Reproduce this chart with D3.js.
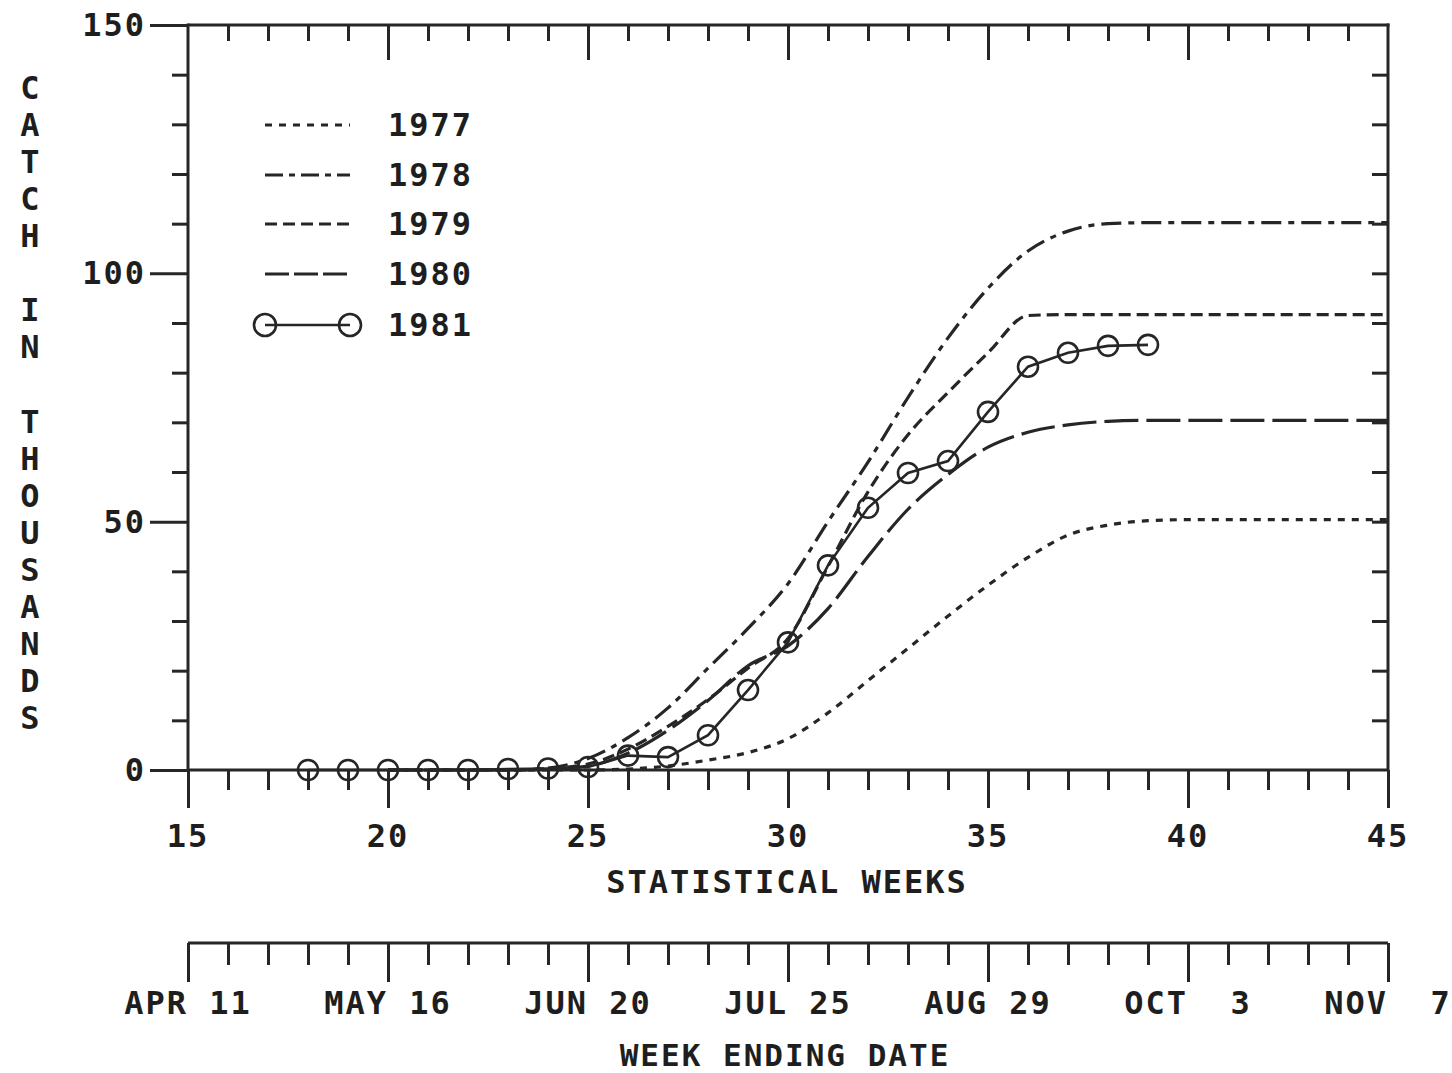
<!DOCTYPE html>
<html>
<head>
<meta charset="utf-8">
<script src="https://cdn.jsdelivr.net/npm/d3@7"></script>
<style>
  html, body { margin: 0; padding: 0; background: #ffffff; }
  svg { display: block; }
  text { font-family: "DejaVu Sans Mono", "Liberation Mono", monospace; font-weight: bold; fill: #1e1e1e; white-space: pre; }
</style>
</head>
<body>
<script>
// ---------------- DATA ----------------
const weeks = [20,21,22,23,24,25,26,27,28,29,30,31,32,33,34,35,36,37,38,39,40,41,42,43,44,45];
const catch1977 = [0,0,0,0,0,0,0.2,0.8,2,3.5,6.3,11.5,18,24.5,31,37.2,42.8,47.3,49.3,50.2,50.4,50.4,50.4,50.4,50.4,50.4];
const catch1978 = [0,0,0,0,0.4,2.3,6.5,12.5,20.5,28.5,37.5,50,62,75,87,97,104.5,108.5,110,110.2,110.2,110.2,110.2,110.2,110.2,110.2];
const catch1979 = [0,0,0,0,0.3,1.2,4.2,8.8,14.2,20.5,26.5,41,56,67.5,76,84,91.5,91.7,91.7,91.7,91.7,91.7,91.7,91.7,91.7,91.7];
const catch1980 = [0,0,0,0,0.2,0.8,3.4,8,14,21,25,32.5,43,52.5,59.5,65,68,69.5,70.2,70.4,70.4,70.4,70.4,70.4,70.4,70.4];

const weeks1981 = [18,19,20,21,22,23,24,25,26,27,28,29,30,31,32,33,34,35,36,37,38,39];
const catch1981 = [0,0,0,0,0,0.2,0.3,0.6,2.9,2.6,7,16.1,25.7,41.2,52.8,59.8,62.2,72.1,81.2,84.0,85.4,85.6];

const seriesNames = ["1977","1978","1979","1980","1981"];

const weekMajorTicks = [15,20,25,30,35,40,45];
const weekMinorTicks = [16,17,18,19,21,22,23,24,26,27,28,29,31,32,33,34,36,37,38,39,41,42,43,44];
const catchMajorTicks = [0,50,100,150];
const catchMinorTicks = [10,20,30,40,60,70,80,90,110,120,130,140];
const dateLabels = ["APR 11","MAY 16","JUN 20","JUL 25","AUG 29","OCT  3","NOV  7"];

const xTitle = "STATISTICAL WEEKS";
const dateTitle = "WEEK ENDING DATE";
const yTitle = "CATCH IN THOUSANDS";

// ---------------- LAYOUT ----------------
const W = 1452, H = 1073;
const ink = "#262626";
const FS = 32;

const svg = d3.select("body").append("svg").attr("width", W).attr("height", H)
  .style("font-size", FS + "px").style("letter-spacing", "2px");

const x = d3.scaleLinear().domain([15,45]).range([188,1388]);
const y = d3.scaleLinear().domain([0,150]).range([770,25]);

function styleAxis(g, w) {
  g.select(".domain").remove();
  g.selectAll(".tick line").attr("stroke", ink).attr("stroke-width", w);
  g.selectAll(".tick text").remove();
}

// left axis ticks
svg.append("g").attr("transform", `translate(${x(15)},0)`)
  .call(d3.axisLeft(y).tickValues(catchMinorTicks).tickSize(16).tickFormat(""))
  .call(g => styleAxis(g, 3));
svg.append("g").attr("transform", `translate(${x(15)},0)`)
  .call(d3.axisLeft(y).tickValues(catchMajorTicks).tickSize(38).tickFormat(""))
  .call(g => styleAxis(g, 3));
svg.append("g").selectAll("text").data(catchMajorTicks).join("text")
  .attr("x", x(15) - 42).attr("y", d => y(d)).attr("text-anchor", "end")
  .attr("dominant-baseline", "central").text(d => String(d));

// right axis ticks (inward)
svg.append("g").attr("transform", `translate(${x(45)},0)`)
  .call(d3.axisRight(y).tickValues(catchMinorTicks.concat([50,100])).tickSize(-16).tickFormat(""))
  .call(g => styleAxis(g, 3));

// top axis ticks (inward)
svg.append("g").attr("transform", `translate(0,${y(150)})`)
  .call(d3.axisBottom(x).tickValues(weekMinorTicks).tickSize(16).tickFormat(""))
  .call(g => styleAxis(g, 3));
svg.append("g").attr("transform", `translate(0,${y(150)})`)
  .call(d3.axisBottom(x).tickValues(weekMajorTicks.slice(1,-1)).tickSize(35).tickFormat(""))
  .call(g => styleAxis(g, 3));

// bottom axis ticks (outward)
svg.append("g").attr("transform", `translate(0,${y(0)})`)
  .call(d3.axisBottom(x).tickValues(weekMinorTicks).tickSize(20).tickFormat(""))
  .call(g => styleAxis(g, 3));
svg.append("g").attr("transform", `translate(0,${y(0)})`)
  .call(d3.axisBottom(x).tickValues(weekMajorTicks).tickSize(38).tickFormat(""))
  .call(g => styleAxis(g, 3));
svg.append("g").selectAll("text").data(weekMajorTicks).join("text")
  .attr("x", d => x(d)).attr("y", 836).attr("text-anchor", "middle")
  .attr("dominant-baseline", "central").text(d => String(d));

// frame
const frame = svg.append("g").attr("stroke", ink).attr("stroke-width", 3).attr("fill", "none");
frame.append("line").attr("x1", x(15)).attr("x2", x(15)).attr("y1", y(150) - 1.5).attr("y2", y(0));
frame.append("line").attr("x1", x(45)).attr("x2", x(45)).attr("y1", y(150) - 1.5).attr("y2", y(0));
frame.append("line").attr("x1", x(15)).attr("x2", x(45) + 1.5).attr("y1", y(150)).attr("y2", y(150));
frame.append("line").attr("x1", x(15)).attr("x2", x(45)).attr("y1", y(0)).attr("y2", y(0));

// x title
svg.append("text").attr("x", 787).attr("y", 882).attr("text-anchor", "middle")
  .attr("dominant-baseline", "central").text(xTitle);

// date axis
const dateY = 943;
svg.append("g").attr("transform", `translate(0,${dateY})`)
  .call(d3.axisBottom(x).tickValues(weekMinorTicks).tickSize(22).tickFormat(""))
  .call(g => styleAxis(g, 3));
svg.append("g").attr("transform", `translate(0,${dateY})`)
  .call(d3.axisBottom(x).tickValues(weekMajorTicks).tickSize(39).tickFormat(""))
  .call(g => styleAxis(g, 3));
svg.append("line").attr("x1", x(15)).attr("x2", x(45)).attr("y1", dateY).attr("y2", dateY)
  .attr("stroke", ink).attr("stroke-width", 3);
svg.append("g").selectAll("text").data(weekMajorTicks).join("text")
  .attr("x", d => x(d)).attr("y", 1003).attr("text-anchor", "middle")
  .attr("dominant-baseline", "central").text((d, i) => dateLabels[i]);
svg.append("text").attr("x", 785).attr("y", 1066).attr("text-anchor", "middle")
  .style("font-size", "31px").text(dateTitle);

// y title (stacked letters)
const yChars = yTitle.split("");
svg.append("g").selectAll("text").data(yChars.map((c, i) => ({c, i})).filter(d => d.c !== " ")).join("text")
  .attr("x", 31).attr("y", d => 88 + d.i * 37.06).attr("text-anchor", "middle")
  .attr("dominant-baseline", "central").text(d => d.c);

// ---------------- SERIES ----------------
const smooth = d3.line().x(d => x(d[0])).y(d => y(d[1])).curve(d3.curveMonotoneX);
const straight = d3.line().x(d => x(d[0])).y(d => y(d[1]));

const styles = {
  "1977": "7,7",
  "1978": "20,7,6,7",
  "1979": "12,6",
  "1980": "34,8"
};
const legendStyles = {
  "1977": "7,7",
  "1978": "18,6,6,6",
  "1979": "12,6",
  "1980": "24,5"
};
const lineData = {
  "1977": catch1977, "1978": catch1978, "1979": catch1979, "1980": catch1980
};

const plot = svg.append("g");
["1977","1978","1979","1980"].forEach(name => {
  plot.append("path")
    .datum(weeks.map((w, i) => [w, lineData[name][i]]))
    .attr("d", smooth)
    .attr("fill", "none").attr("stroke", ink).attr("stroke-width", 3.2)
    .attr("stroke-dasharray", styles[name]);
});

const pts1981 = weeks1981.map((w, i) => [w, catch1981[i]]);
plot.append("path").datum(pts1981).attr("d", straight)
  .attr("fill", "none").attr("stroke", ink).attr("stroke-width", 2.6);
plot.append("g").selectAll("circle").data(pts1981).join("circle")
  .attr("cx", d => x(d[0])).attr("cy", d => y(d[1])).attr("r", 10)
  .attr("fill", "none").attr("stroke", ink).attr("stroke-width", 2.6);

// ---------------- LEGEND ----------------
const legRows = [125, 175, 224, 274, 325];
const leg = svg.append("g");
seriesNames.forEach((name, i) => {
  const ly = legRows[i];
  const ln = leg.append("line").attr("x1", 265).attr("x2", 350).attr("y1", ly).attr("y2", ly)
    .attr("stroke", ink).attr("stroke-width", 3.2);
  if (name === "1981") {
    ln.attr("stroke-width", 2.6);
    leg.append("circle").attr("cx", 265).attr("cy", ly).attr("r", 11)
      .attr("fill", "none").attr("stroke", ink).attr("stroke-width", 2.6);
    leg.append("circle").attr("cx", 350).attr("cy", ly).attr("r", 11)
      .attr("fill", "none").attr("stroke", ink).attr("stroke-width", 2.6);
  } else {
    ln.attr("stroke-dasharray", legendStyles[name]);
  }
  leg.append("text").attr("x", 388).attr("y", ly).attr("dominant-baseline", "central").text(name);
});
</script>
</body>
</html>
